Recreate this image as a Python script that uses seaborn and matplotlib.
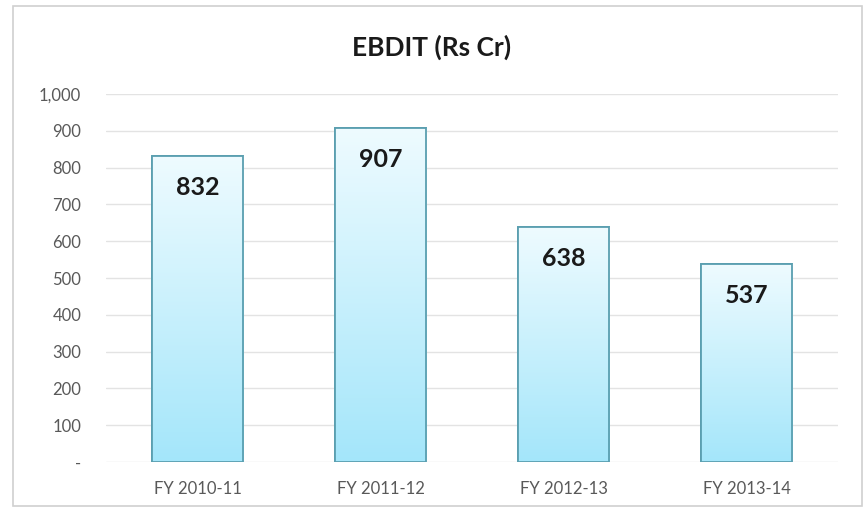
import numpy as np
import matplotlib
matplotlib.use("Agg")
import matplotlib.pyplot as plt
from matplotlib.colors import LinearSegmentedColormap
from matplotlib.patches import Rectangle
import matplotlib.ticker as mticker
import pandas as pd
import seaborn as sns

# chart data
years = ['FY 2010-11', 'FY 2011-12', 'FY 2012-13', 'FY 2013-14']
ebdit = [832, 907, 638, 537]
y_ticks = list(range(0, 1001, 100))

df = pd.DataFrame({'year': years, 'ebdit': ebdit})

sns.set_theme(style='white')
plt.rcParams['font.family'] = ['Lato', 'DejaVu Sans']

fig = plt.figure(figsize=(8.64, 5.12), dpi=100)
ax = fig.add_axes([0.123, 0.098, 0.847, 0.718])

sns.barplot(data=df, x='year', y='ebdit', ax=ax, width=0.5,
            color='#bdeefc', edgecolor='#5a9fb0', linewidth=1.3, zorder=3)

# vertical gradient inside each bar: pale top, light cyan bottom
grad = LinearSegmentedColormap.from_list('bar', ['#a4e6fa', '#eefbff'])
ramp = np.linspace(0, 1, 256).reshape(-1, 1)
for patch in ax.patches:
    x0, y0 = patch.get_x(), patch.get_y()
    w, h = patch.get_width(), patch.get_height()
    im = ax.imshow(ramp, cmap=grad, aspect='auto', origin='lower',
                   extent=[x0, x0 + w, y0, y0 + h], zorder=3.5)
    im.set_clip_path(patch)
    ax.add_patch(Rectangle((x0, y0), w, h, fill=False,
                           edgecolor='#5a9fb0', linewidth=1.3, zorder=4))

for i, v in enumerate(ebdit):
    ax.text(i, v - 85, f'{v:,}', ha='center', va='center',
            fontsize=18, fontweight='bold', color='#1a1a1a', zorder=5)

ax.set_ylim(0, 1000)
ax.set_xlim(-0.5, len(years) - 0.5)
ax.set_yticks(y_ticks)
ax.yaxis.set_major_formatter(mticker.FuncFormatter(
    lambda v, p: '-' if v == 0 else f'{int(v):,}'))
ax.yaxis.grid(True, color='#e3e3e3', linewidth=1, zorder=0)
ax.set_axisbelow(True)
for s in ax.spines.values():
    s.set_visible(False)
ax.tick_params(axis='both', length=0, labelsize=12, colors='#595959')
ax.tick_params(axis='y', pad=18)
ax.tick_params(axis='x', pad=14)
ax.set_xlabel('')
ax.set_ylabel('')

fig.text(0.5, 0.908, 'EBDIT (Rs Cr)', ha='center', va='center',
         fontsize=19, fontweight='bold', color='#1a1a1a')

# outer chart frame
fig.patches.append(Rectangle((0.015, 0.012), 0.983, 0.976, transform=fig.transFigure,
                             fill=False, edgecolor='#d0d0d0', linewidth=1.2))

fig.savefig('out.png', dpi=100)
